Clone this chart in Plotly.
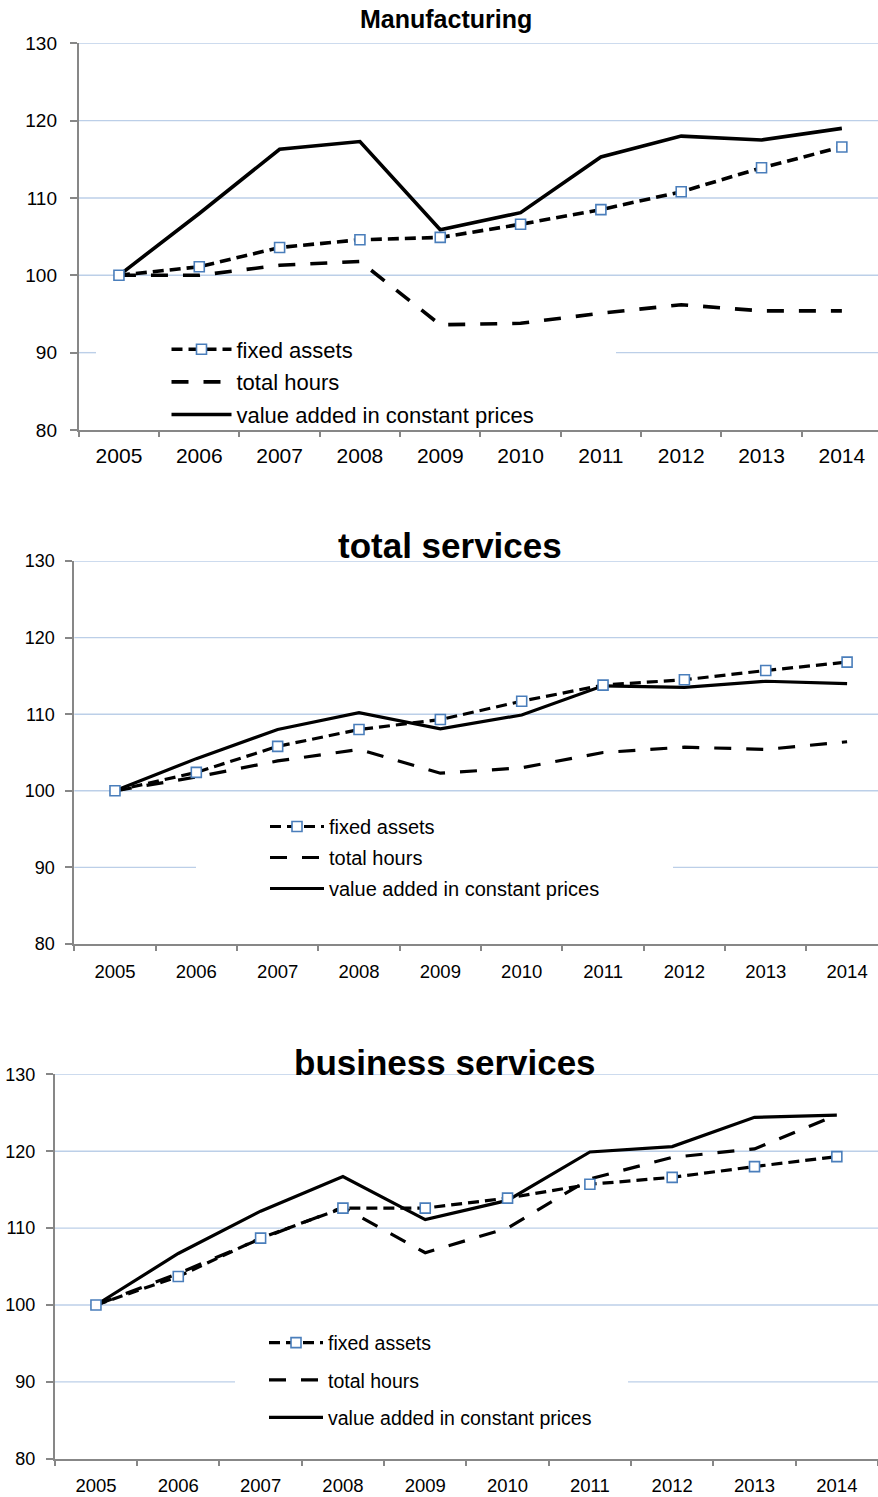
import plotly.graph_objects as go

W, H = 878, 1497

years = ["2005", "2006", "2007", "2008", "2009", "2010", "2011", "2012", "2013", "2014"]
series_names = ["fixed assets", "total hours", "value added in constant prices"]

# Manufacturing (index, 2005 = 100)
mfg_fixed_assets = [100, 101.1, 103.6, 104.6, 104.9, 106.6, 108.5, 110.8, 113.9, 116.6]
mfg_total_hours = [100, 100.0, 101.3, 101.8, 93.6, 93.8, 95.1, 96.2, 95.4, 95.4]
mfg_value_added = [100, 108.0, 116.3, 117.3, 105.9, 108.1, 115.3, 118.0, 117.5, 119.0]

# total services
tot_fixed_assets = [100, 102.4, 105.8, 108.0, 109.3, 111.7, 113.8, 114.5, 115.7, 116.8]
tot_total_hours = [100, 101.8, 103.9, 105.4, 102.3, 103.0, 105.0, 105.7, 105.4, 106.4]
tot_value_added = [100, 104.2, 108.0, 110.2, 108.1, 109.9, 113.7, 113.5, 114.3, 114.0]

# business services
bus_fixed_assets = [100, 103.7, 108.7, 112.6, 112.6, 113.9, 115.7, 116.6, 118.0, 119.3]
bus_total_hours = [100, 104.1, 108.6, 112.7, 106.8, 110.0, 116.4, 119.2, 120.3, 124.7]
bus_value_added = [100, 106.7, 112.2, 116.7, 111.1, 113.6, 119.9, 120.6, 124.4, 124.7]

y_ticks = [80, 90, 100, 110, 120, 130]

FONT = "Arial, Liberation Sans, sans-serif"
AXIS_GREY = "#878787"
GRID_BLUE = "#bccfe8"
MARKER_BLUE = "#4a7ebb"


def px(x):
    return x / W


def py(y):
    return 1 - y / H


panels = [
    dict(
        title="Manufacturing", title_size=25, title_xy=(446, 19.5),
        data=(mfg_fixed_assets, mfg_total_hours, mfg_value_added),
        left=78.8, top=43.3, bottom=430, xmax=9.45,
        ytick_size=19, ystand=9, xtick_size=21, xstand=6, lw=3.6,
        legend=dict(x=166.5, y=328.5, size=22, itemwidth=60, gap=1),
        gap_x=(96, 616),
    ),
    dict(
        title="total services", title_size=35, title_xy=(450, 545),
        data=(tot_fixed_assets, tot_total_hours, tot_value_added),
        left=74.3, top=561, bottom=944, xmax=9.38,
        ytick_size=18, ystand=7, xtick_size=18.5, xstand=10, lw=3.2,
        legend=dict(x=265, y=807, size=20, itemwidth=54, gap=2),
        gap_x=(196, 673),
    ),
    dict(
        title="business services", title_size=35, title_xy=(445, 1062),
        data=(bus_fixed_assets, bus_total_hours, bus_value_added),
        left=54.8, top=1074.3, bottom=1458.8, xmax=9.5,
        ytick_size=18, ystand=7, xtick_size=18.5, xstand=9, lw=3.2,
        legend=dict(x=264, y=1323.4, size=19.5, itemwidth=54, gap=9),
        gap_x=(235, 628),
    ),
]

fig = go.Figure()
shapes = []
annotations = []
layout = {}

for i, p in enumerate(panels, start=1):
    sfx = "" if i == 1 else str(i)
    xa, ya = "x" + sfx, "y" + sfx
    leg = "legend" + sfx
    fa, th, va = p["data"]

    # value added (solid), total hours (long dash), fixed assets (dash + open squares)
    fig.add_trace(go.Scatter(
        x=years, y=va, name=series_names[2], mode="lines",
        line=dict(color="black", width=p["lw"]),
        xaxis=xa, yaxis=ya, legend=leg, legendrank=3, legendgroup=f"va{i}",
    ))
    fig.add_trace(go.Scatter(
        x=years, y=th, name=series_names[1], mode="lines",
        line=dict(color="black", width=p["lw"], dash="17px,15px"),
        xaxis=xa, yaxis=ya, legend=leg, legendrank=2, legendgroup=f"th{i}",
    ))
    fig.add_trace(go.Scatter(
        x=years, y=fa, name=series_names[0], mode="lines+markers",
        line=dict(color="black", width=p["lw"], dash="11px,6px"),
        marker=dict(symbol="square", size=10, color="white",
                    line=dict(color=MARKER_BLUE, width=1.6)),
        xaxis=xa, yaxis=ya, legend=leg, legendrank=1, legendgroup=f"fa{i}",
    ))

    layout["xaxis" + sfx] = dict(
        type="category", categoryorder="array", categoryarray=years,
        range=[-0.5, p["xmax"]], domain=[px(p["left"]), 1],
        anchor=ya, showgrid=False, zeroline=False, automargin=False,
        showline=True, linecolor=AXIS_GREY, linewidth=2,
        ticks="outside", tickson="boundaries", ticklen=5,
        tickcolor=AXIS_GREY, tickwidth=1.5,
        tickfont=dict(family=FONT, size=p["xtick_size"], color="black"),
        ticklabelstandoff=p["xstand"], fixedrange=True,
    )
    layout["yaxis" + sfx] = dict(
        range=[80, 130], tickvals=y_ticks,
        domain=[py(p["bottom"]), py(p["top"])], anchor=xa,
        showgrid=False, zeroline=False, automargin=False,
        showline=True, linecolor=AXIS_GREY, linewidth=2,
        ticks="outside", ticklen=7, tickcolor=AXIS_GREY, tickwidth=1.5,
        tickfont=dict(family=FONT, size=p["ytick_size"], color="black"),
        ticklabelstandoff=p["ystand"], fixedrange=True,
    )
    lg = p["legend"]
    layout[leg] = dict(
        x=px(lg["x"]), y=py(lg["y"]), xanchor="left", yanchor="top",
        xref="paper", yref="paper",
        bgcolor="rgba(0,0,0,0)", borderwidth=0,
        font=dict(family=FONT, size=lg["size"], color="black"),
        itemwidth=lg["itemwidth"], traceorder="grouped", tracegroupgap=lg["gap"],
    )

    # horizontal grid lines; the one at 90 is interrupted behind the legend
    span_x = W - p["left"]
    g0 = (p["gap_x"][0] - p["left"]) / span_x
    g1 = (p["gap_x"][1] - p["left"]) / span_x
    for t in y_ticks[1:]:
        pieces = [(0, g0), (g1, 1)] if t == 90 else [(0, 1)]
        for a, b in pieces:
            shapes.append(dict(
                type="line", xref=f"{xa} domain", yref=ya, layer="below",
                x0=a, x1=b, y0=t, y1=t,
                line=dict(color=GRID_BLUE, width=1.4),
            ))

    tx, ty = p["title_xy"]
    annotations.append(dict(
        text=f"<b>{p['title']}</b>", xref="paper", yref="paper",
        x=px(tx), y=py(ty), xanchor="center", yanchor="middle",
        showarrow=False, font=dict(family=FONT, size=p["title_size"], color="black"),
    ))

fig.update_layout(
    width=W, height=H,
    margin=dict(l=0, r=0, t=0, b=0, pad=0, autoexpand=False),
    paper_bgcolor="white", plot_bgcolor="white",
    shapes=shapes, annotations=annotations,
    **layout,
)

fig.write_html("out.html")
